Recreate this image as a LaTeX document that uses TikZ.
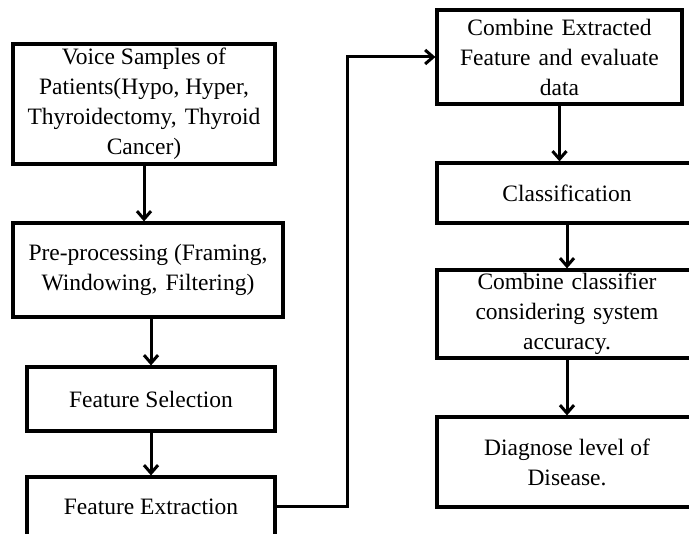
\documentclass[tikz,border=0pt]{standalone}
\usepackage{fontspec}
\setmainfont{Liberation Serif}
\usetikzlibrary{arrows.meta}
\begin{document}
\begin{tikzpicture}[x=1pt,y=-1pt,
  box/.style={draw, line width=3.2pt, rectangle, align=center, inner sep=0pt,
    font=\fontsize{23.5}{30}\selectfont},
  flow/.style={line width=3pt, -{Straight Barb[length=8pt,width=14pt,line width=3pt]}}]
  \useasboundingbox (0,0) rectangle (689,534);
  \clip (0,0) rectangle (689,534);

  % left column
  \node[box, minimum width=262, minimum height=120] (b1) at (144,104)
    {Voice Samples of\\Patients(Hypo, Hyper,\\Thyroidectomy,\hspace{8pt}Thyroid\\Cancer)};
  \node[box, minimum width=270, minimum height=94] (b2) at (148,270)
    {Pre-processing (Framing,\\Windowing,\hspace{8pt}Filtering)};
  \node[box, minimum width=248, minimum height=64] (b3) at (151,399)
    {Feature Selection};
  \node[box, minimum width=248, minimum height=60] (b4) at (151,507)
    {Feature Extraction};

  % right column
  \node[box, minimum width=245, minimum height=94] (b5) at (559.5,57)
    {Combine\hspace{8pt}Extracted\\Feature\hspace{8pt}and\hspace{8pt}evaluate\\data};
  \node[box, minimum width=260, minimum height=60] (b6) at (567,193)
    {Classification};
  \node[box, minimum width=260, minimum height=88] (b7) at (567,314)
    {Combine\hspace{8pt}classifier\\considering\hspace{8pt}system\\accuracy.};
  \node[box, minimum width=260, minimum height=90] (b8) at (567,462)
    {Diagnose level of\\Disease.};

  \coordinate (turn) at (347,300);

  % connectors
  \draw[flow] (b1.south) -- (b1.south |- b2.north);
  \draw[flow] (b3.north |- b2.south) -- (b3.north);
  \draw[flow] (b3.south) -- (b4.north);
  \draw[flow] (b4.east) -- (b4.east -| turn) |- (b5.west);
  \draw[flow] (b5.south) -- (b5.south |- b6.north);
  \draw[flow] (b6.south) -- (b7.north);
  \draw[flow] (b7.south) -- (b8.north);
\end{tikzpicture}
\end{document}
